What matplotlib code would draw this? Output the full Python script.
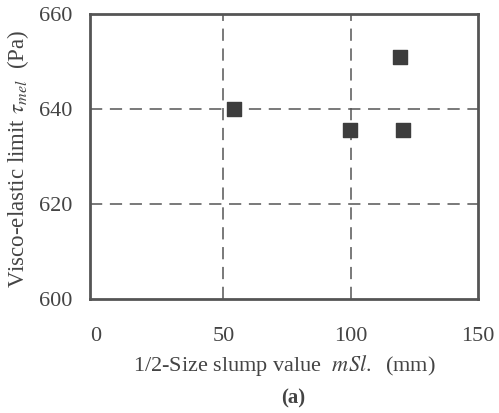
import matplotlib.pyplot as plt

slump = [54, 99.6, 119.3, 120.5]
tau_mel = [640, 635.6, 651, 635.6]
xticks = [0, 50, 100, 150]
yticks = [600, 620, 640, 660]

plt.rcParams['font.family'] = ['Liberation Serif', 'DejaVu Serif']
plt.rcParams['mathtext.fontset'] = 'stix'

fig = plt.figure(figsize=(4.99, 4.13), dpi=100)
ax = fig.add_axes([90/499, 1-299/413, 388/499, 285/413])

for x in [50, 100]:
    ax.axvline(x, color='#555555', lw=1.1, ls=(0, (8, 5)), zorder=1)
for y in [620, 640]:
    ax.axhline(y, color='#555555', lw=1.1, ls=(0, (8, 5)), zorder=1)

ax.scatter(slump, tau_mel, marker='s', s=100, color='#3d3d3d', zorder=3)

ax.set_xlim(-2.4, 150)
ax.set_ylim(600, 660)
ax.set_xticks(xticks)
ax.set_yticks(yticks)
ax.tick_params(length=0, labelsize=16, colors='#444444', pad=20)
ax.tick_params(axis='y', pad=13)
for s in ax.spines.values():
    s.set_linewidth(2)
    s.set_color('#555555')

ax.set_xlabel(r'1/2-Size slump value  $\mathit{mSl.}$  (mm)', fontsize=16, color='#444444')
ax.xaxis.set_label_coords(0.5, -0.19)
ax.set_ylabel(r'Visco-elastic limit $\tau_{mel}$  (Pa)', fontsize=16.5, color='#444444')
ax.yaxis.set_label_coords(-0.152, 0.49)
fig.text(293/499, 1-398/413, '(a)', fontsize=15, fontweight='bold', color='#444444', ha='center', va='center')

fig.savefig('out.png', dpi=100)
